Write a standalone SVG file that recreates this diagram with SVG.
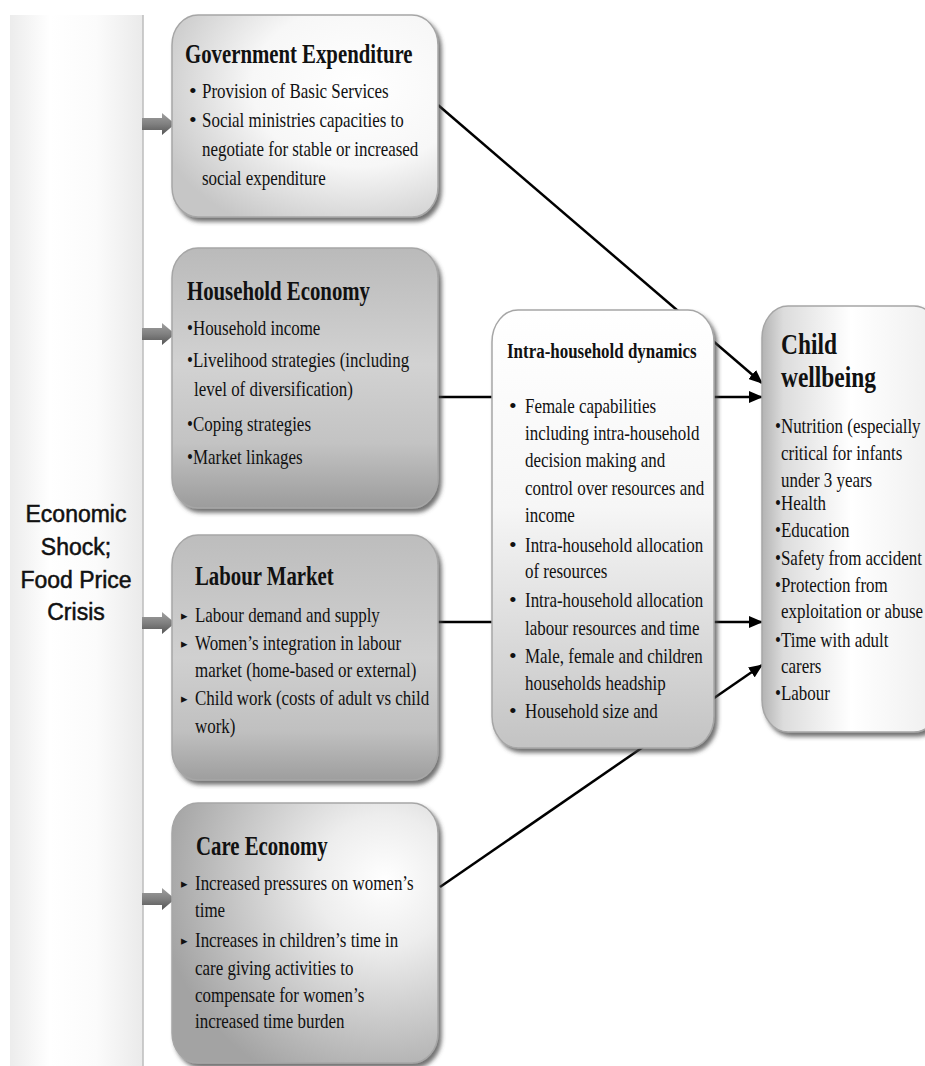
<svg xmlns="http://www.w3.org/2000/svg" width="925" height="1066" viewBox="0 0 925 1066">
<style>
.t{font-family:"Liberation Serif","Times New Roman",serif;font-size:22px;fill:#111}
.h{font-family:"Liberation Serif","Times New Roman",serif;font-size:27px;font-weight:bold;fill:#111}
.hi{font-family:"Liberation Serif","Times New Roman",serif;font-size:22px;font-weight:bold;fill:#111}
.hc{font-family:"Liberation Serif","Times New Roman",serif;font-size:30px;font-weight:bold;fill:#111}
.e{font-family:"Liberation Sans",Arial,sans-serif;font-size:23px;text-anchor:middle;fill:#111;stroke:#111;stroke-width:0.5}
.tri{font-family:"DejaVu Sans",sans-serif;font-size:13px;fill:#111}
.c{stroke:#000;stroke-width:2.5;fill:none}
.box{stroke:#a6a6a6;stroke-width:1.5;filter:url(#sh)}
</style>
<defs>
<filter id="sh" x="-10%" y="-10%" width="125%" height="125%">
<feDropShadow dx="3" dy="4" stdDeviation="2" flood-color="#444" flood-opacity="0.75"/>
</filter>
<linearGradient id="gBar" x1="0" y1="0" x2="1" y2="0">
<stop offset="0" stop-color="#ececec"/><stop offset="0.3" stop-color="#ffffff"/><stop offset="0.65" stop-color="#fbfbfb"/><stop offset="1" stop-color="#eaeaea"/>
</linearGradient>
<radialGradient id="gGov" cx="0.7" cy="0.35" r="0.8">
<stop offset="0" stop-color="#ffffff"/><stop offset="0.5" stop-color="#f7f7f7"/><stop offset="1" stop-color="#c6c6c6"/>
</radialGradient>
<linearGradient id="gHH" x1="0" y1="0" x2="0" y2="1">
<stop offset="0" stop-color="#bababa"/><stop offset="0.45" stop-color="#d2d2d2"/><stop offset="0.75" stop-color="#c3c3c3"/><stop offset="1" stop-color="#9c9c9c"/>
</linearGradient>
<linearGradient id="gLab" x1="0" y1="0" x2="0" y2="1">
<stop offset="0" stop-color="#bdbdbd"/><stop offset="0.5" stop-color="#d0d0d0"/><stop offset="0.8" stop-color="#c0c0c0"/><stop offset="1" stop-color="#9e9e9e"/>
</linearGradient>
<radialGradient id="gCare" cx="0.8" cy="0.3" r="0.85">
<stop offset="0" stop-color="#ffffff"/><stop offset="0.3" stop-color="#ededed"/><stop offset="1" stop-color="#a3a3a3"/>
</radialGradient>
<linearGradient id="gIntra" x1="0" y1="0" x2="0" y2="1">
<stop offset="0" stop-color="#ffffff"/><stop offset="0.45" stop-color="#f6f6f6"/><stop offset="1" stop-color="#c3c3c3"/>
</linearGradient>
<linearGradient id="gChild" x1="0" y1="0" x2="1" y2="0">
<stop offset="0" stop-color="#b3b3b3"/><stop offset="0.12" stop-color="#dcdcdc"/><stop offset="0.5" stop-color="#ffffff"/><stop offset="1" stop-color="#eeeeee"/>
</linearGradient>
<linearGradient id="gArr" x1="0" y1="0" x2="0" y2="1">
<stop offset="0" stop-color="#a0a0a0"/><stop offset="0.5" stop-color="#808080"/><stop offset="1" stop-color="#555555"/>
</linearGradient>
<path id="ga" d="M142,-6 H162 V-11 L175,0 L162,11 V6 H142 Z" fill="url(#gArr)"/>
<marker id="ah" markerUnits="userSpaceOnUse" markerWidth="14" markerHeight="12" viewBox="0 0 14 12" refX="13" refY="6" orient="auto">
<path d="M0,0 L14,6 L0,12 Z" fill="#000"/>
</marker>
</defs>
<rect width="925" height="1066" fill="#ffffff"/>

<g id="shock">
<rect x="10" y="15" width="133" height="1060" fill="url(#gBar)"/>
<line x1="143" y1="15" x2="143" y2="1066" stroke="#bdbdbd" stroke-width="1.5"/>
<text class="e" x="76" y="522">Economic</text>
<text class="e" x="76" y="555">Shock;</text>
<text class="e" x="76" y="588">Food Price</text>
<text class="e" x="76" y="620">Crisis</text>
</g>

<g id="inputs">
<use href="#ga" transform="translate(0,124)"/>
<use href="#ga" transform="translate(0,334)"/>
<use href="#ga" transform="translate(0,623)"/>
<use href="#ga" transform="translate(0,899)"/>
</g>

<g id="connectors">
<line class="c" x1="438" y1="105" x2="762" y2="383" marker-end="url(#ah)"/>
<line class="c" x1="438" y1="397" x2="493" y2="397"/>
<line class="c" x1="714" y1="397" x2="762" y2="397" marker-end="url(#ah)"/>
<line class="c" x1="438" y1="622" x2="493" y2="622"/>
<line class="c" x1="714" y1="622" x2="762" y2="622" marker-end="url(#ah)"/>
<line class="c" x1="440" y1="887" x2="762" y2="665" marker-end="url(#ah)"/>
</g>

<g id="gov">
<rect class="box" x="172" y="15" width="266" height="202" rx="26" ry="30" fill="url(#gGov)"/>
<text class="h" transform="translate(185,63) scale(0.77,1)">Government Expenditure</text>
<text class="t" x="189" y="98">•</text>
<text class="t" transform="translate(202,98) scale(0.77,1)">Provision of Basic Services</text>
<text class="t" x="189" y="127">•</text>
<text class="t" transform="translate(202,127) scale(0.77,1)">Social ministries capacities to</text>
<text class="t" transform="translate(202,156) scale(0.77,1)">negotiate for stable or increased</text>
<text class="t" transform="translate(202,185) scale(0.77,1)">social expenditure</text>
</g>

<g id="household">
<rect class="box" x="172" y="248" width="266" height="260" rx="26" ry="30" fill="url(#gHH)"/>
<text class="h" transform="translate(187,300) scale(0.77,1)">Household Economy</text>
<text class="t" transform="translate(187,335) scale(0.77,1)">•Household income</text>
<text class="t" transform="translate(187,367) scale(0.77,1)">•Livelihood strategies (including</text>
<text class="t" transform="translate(194,396) scale(0.77,1)">level of diversification)</text>
<text class="t" transform="translate(187,431) scale(0.77,1)">•Coping strategies</text>
<text class="t" transform="translate(187,464) scale(0.77,1)">•Market linkages</text>
</g>

<g id="labour">
<rect class="box" x="172" y="535" width="266" height="245" rx="26" ry="30" fill="url(#gLab)"/>
<text class="h" transform="translate(195,585) scale(0.77,1)">Labour Market</text>
<text class="tri" x="181" y="620">▸</text>
<text class="t" transform="translate(195,622) scale(0.77,1)">Labour demand and supply</text>
<text class="tri" x="181" y="648">▸</text>
<text class="t" transform="translate(195,650) scale(0.77,1)">Women’s integration in labour</text>
<text class="t" transform="translate(195,677) scale(0.77,1)">market (home-based or external)</text>
<text class="tri" x="181" y="703">▸</text>
<text class="t" transform="translate(195,705) scale(0.77,1)">Child work (costs of adult vs child</text>
<text class="t" transform="translate(195,733) scale(0.77,1)">work)</text>
</g>

<g id="care">
<rect class="box" x="172" y="803" width="266" height="260" rx="26" ry="30" fill="url(#gCare)"/>
<text class="h" transform="translate(196,855) scale(0.77,1)">Care Economy</text>
<text class="tri" x="181" y="888">▸</text>
<text class="t" transform="translate(195,890) scale(0.77,1)">Increased pressures on women’s</text>
<text class="t" transform="translate(195,917) scale(0.77,1)">time</text>
<text class="tri" x="181" y="945">▸</text>
<text class="t" transform="translate(195,947) scale(0.77,1)">Increases in children’s time in</text>
<text class="t" transform="translate(195,975) scale(0.77,1)">care giving activities to</text>
<text class="t" transform="translate(195,1002) scale(0.77,1)">compensate for women’s</text>
<text class="t" transform="translate(195,1028) scale(0.77,1)">increased time burden</text>
</g>

<g id="intra">
<rect class="box" x="492" y="310" width="222" height="438" rx="26" ry="32" fill="url(#gIntra)"/>
<text class="hi" transform="translate(507,358) scale(0.77,1)">Intra-household dynamics</text>
<text class="t" x="509" y="413">•</text>
<text class="t" transform="translate(525,413) scale(0.77,1)">Female capabilities</text>
<text class="t" transform="translate(525,440) scale(0.77,1)">including intra-household</text>
<text class="t" transform="translate(525,467) scale(0.77,1)">decision making and</text>
<text class="t" transform="translate(525,495) scale(0.77,1)">control over resources and</text>
<text class="t" transform="translate(525,522) scale(0.77,1)">income</text>
<text class="t" x="509" y="552">•</text>
<text class="t" transform="translate(525,552) scale(0.77,1)">Intra-household allocation</text>
<text class="t" transform="translate(525,578) scale(0.77,1)">of resources</text>
<text class="t" x="509" y="607">•</text>
<text class="t" transform="translate(525,607) scale(0.77,1)">Intra-household allocation</text>
<text class="t" transform="translate(525,635) scale(0.77,1)">labour resources and time</text>
<text class="t" x="509" y="663">•</text>
<text class="t" transform="translate(525,663) scale(0.77,1)">Male, female and children</text>
<text class="t" transform="translate(525,690) scale(0.77,1)">households headship</text>
<text class="t" x="509" y="718">•</text>
<text class="t" transform="translate(525,718) scale(0.77,1)">Household size and</text>
</g>

<g id="child">
<rect class="box" x="762" y="306" width="178" height="426" rx="26" ry="32" fill="url(#gChild)"/>
<text class="hc" transform="translate(781,354) scale(0.78,1)">Child</text>
<text class="hc" transform="translate(781,387) scale(0.78,1)">wellbeing</text>
<text class="t" transform="translate(775,433) scale(0.77,1)">•Nutrition (especially</text>
<text class="t" transform="translate(781,460) scale(0.77,1)">critical for infants</text>
<text class="t" transform="translate(781,487) scale(0.77,1)">under 3 years</text>
<text class="t" transform="translate(775,510) scale(0.77,1)">•Health</text>
<text class="t" transform="translate(775,537) scale(0.77,1)">•Education</text>
<text class="t" transform="translate(775,565) scale(0.77,1)">•Safety from accident</text>
<text class="t" transform="translate(775,592) scale(0.77,1)">•Protection from</text>
<text class="t" transform="translate(781,618) scale(0.77,1)">exploitation or abuse</text>
<text class="t" transform="translate(775,647) scale(0.77,1)">•Time with adult</text>
<text class="t" transform="translate(781,673) scale(0.77,1)">carers</text>
<text class="t" transform="translate(775,700) scale(0.77,1)">•Labour</text>
</g>
</svg>
